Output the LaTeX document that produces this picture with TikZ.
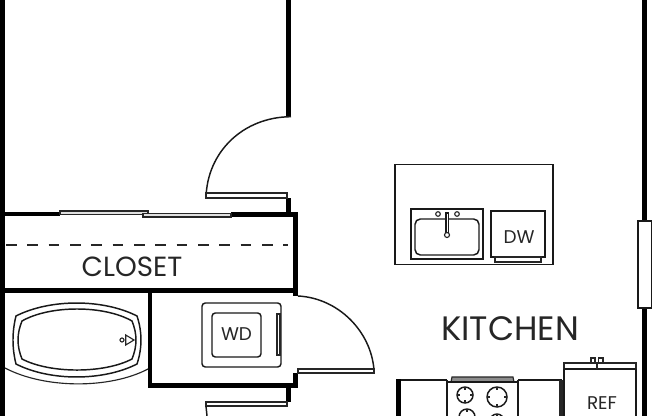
\documentclass[tikz,border=0pt]{standalone}
\usepackage{fontspec}
\setmainfont{Poppins}
\tikzset{x=0.75pt,y=-0.75pt,
 wall/.style={fill=black,draw=none},
 thin line/.style={draw=black!90,line width=1.1pt},
 fine line/.style={draw=black!85,line width=0.85pt},
 label text/.style={font=\fontsize{11pt}{13pt}\selectfont,text=black!85,inner sep=0pt}}
\begin{document}
\begin{tikzpicture}
\useasboundingbox (0,0) rectangle (652,416);
\fill[white] (0,0) rectangle (652,416);
% walls
\fill[wall] (0,0) rectangle (5,416);
\fill[wall] (642,0) rectangle (647,221);
\fill[wall] (642,308) rectangle (647,416);
\fill[wall] (286,0) rectangle (291,117);
\fill[wall] (5,212) rectangle (60,216);
\fill[wall] (231,212) rectangle (298,217);
\fill[wall] (286,198) rectangle (291,212);
\fill[wall] (293,212) rectangle (298,296);
\fill[wall] (5,288) rectangle (298,293);
\fill[wall] (148,293) rectangle (152,388);
\fill[wall] (148,383) rectangle (298,388);
\fill[wall] (293,373) rectangle (298,388);
\fill[wall] (286,388) rectangle (291,402);
\fill[wall] (396,379) rectangle (401,416);
% closet doors
\draw[fine line,fill=black!12] (60,211) rectangle (148,214.5);
\draw[fine line,fill=black!12] (143,213.5) rectangle (231,217);
\draw[fine line,dash pattern=on 8pt off 8pt] (6,245) -- (288,245);
\node[label text,font=\fontsize{20.8pt}{24pt}\selectfont] (closet) at (132,267) {CLOSET};
% door upper
\draw[thin line] (291,116.7) .. controls (243,117) and (207,152) .. (206,198);
\draw[fine line,fill=white] (206,193) rectangle (287,198);
% door right
\draw[thin line] (298,296) .. controls (338,298) and (371,331) .. (374,370);
\draw[fine line,fill=white] (298,369) rectangle (374,373);
% door bottom
\draw[fine line,fill=white] (206,402) rectangle (287,406);
\draw[thin line] (206,406) -- (207,416);
% tub
\draw[thin line] (16,316) .. controls (50,298.7) and (103,298.7) .. (137,316) .. controls (142.3,332) and (142.3,348) .. (137,364) .. controls (103,381.3) and (50,381.3) .. (16,364) .. controls (12,348) and (12,332) .. (16,316) -- cycle;
\draw[thin line] (22,321) .. controls (50,305) and (104,305) .. (132,321) .. controls (137.3,334) and (137.3,346) .. (132,359) .. controls (104,373.7) and (50,373.7) .. (22,359) .. controls (16.7,346) and (16.7,334) .. (22,321) -- cycle;
\draw[fine line] (5,368) .. controls (45,389) and (110,389) .. (148,369);
\draw[fine line] (125.7,335) -- (134,340) -- (125.7,345) -- cycle;
\draw[fine line] (122,340) circle (2);
% WD
\draw[thin line,rounded corners=2.5pt] (202,303) rectangle (281,367);
\draw[thin line,rounded corners=2.5pt] (212,313) rectangle (261,357);
\draw[fine line] (277,314) rectangle (280,355);
\node[label text,font=\fontsize{13.8pt}{16pt}\selectfont] (wd) at (236.5,334) {WD};
% island
\draw[thin line] (395,164.5) rectangle (553,264.5);
\draw[thin line] (411,209) rectangle (483,259);
\draw[thin line,rounded corners=4pt] (415,219) rectangle (479,255);
\draw[fine line] (438,214) circle (2.3);
\draw[fine line] (457,214) circle (2.3);
\draw[thin line,fill=white] (446,213) rectangle (448.5,233);
\draw[fine line,fill=white] (447,235) circle (2.5);
\draw[thin line] (491,211) rectangle (545,257);
\draw[fine line] (495,257) rectangle (541,262);
\node[label text,font=\fontsize{13.8pt}{16pt}\selectfont] (dw) at (519,237) {DW};
% window
\draw[thin line] (638,221) rectangle (652,308);
% kitchen
\node[label text,font=\fontsize{25.4pt}{28pt}\selectfont] (kitchen) at (510,329) {KITCHEN};
% counter
\draw[thin line] (401,380) -- (447,380);
\draw[thin line] (518,380) -- (562,380);
\draw[fine line] (560,380) -- (560,416);
\draw[fine line] (562,380) -- (562,416);
% stove
\draw[thin line] (447,380) -- (447,416);
\draw[thin line] (518,380) -- (518,416);
\draw[fine line,fill=black!45] (451,382) -- (452,377) -- (513,377) -- (514,382) -- cycle;
\draw[thin line] (447,382) -- (518,382);
\foreach \n/\cx/\cy/\r in {a/465/395/8,b/497/397/10,c/467/417/8,d/497/421/7}{
 \draw[thin line] (\cx,\cy) circle (\r);
 \draw[fine line] (\cx-\r,\cy) -- (\cx-\r+3,\cy) (\cx+\r,\cy) -- (\cx+\r-3,\cy) (\cx,\cy-\r) -- (\cx,\cy-\r+3) (\cx,\cy+\r) -- (\cx,\cy+\r-3);
}
% ref
\draw[fine line] (564,363) rectangle (636,369);
\draw[line width=1.3pt,draw=black!90] (564,369) -- (636,369);
\draw[thin line] (564,369) -- (564,416);
\draw[thin line] (636,369) -- (636,416);
\draw[fine line] (597,363) -- (597,369);
\draw[fine line] (591,358) rectangle (595,363);
\draw[fine line] (598.5,358) rectangle (603,363);
\node[label text,font=\fontsize{13.8pt}{16pt}\selectfont] (ref) at (602,403) {REF};
\end{tikzpicture}
\end{document}
